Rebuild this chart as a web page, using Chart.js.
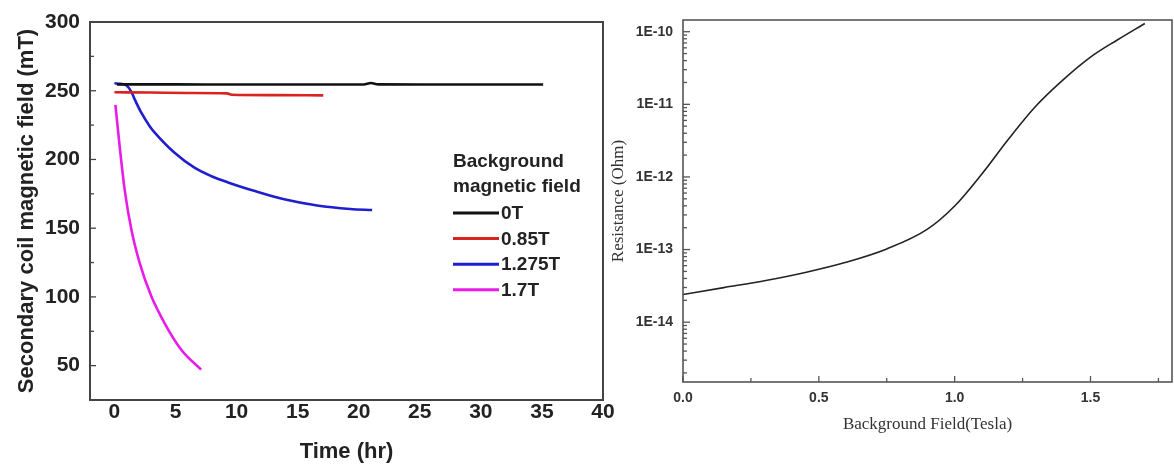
<!DOCTYPE html>
<html lang="en">
<head>
<meta charset="UTF-8">
<title>Secondary coil field decay and resistance</title>
<script src="https://cdn.jsdelivr.net/npm/chart.js@4.4.0/dist/chart.umd.min.js"></script>
<style>
  html, body { margin: 0; padding: 0; background: #fff; overflow: hidden; }
  #leftBox { position: absolute; left: 0; top: 0; width: 624px; height: 464px; }
  #rightBox { position: absolute; left: 600px; top: 0; width: 574px; height: 464px; }
</style>
</head>
<body>
<div id="leftBox"><canvas id="decayChart"></canvas></div>
<div id="rightBox"><canvas id="resistChart"></canvas></div>

<script>
// ---- left panel: secondary coil field vs time ----
const legendTitle = ['Background', 'magnetic field'];
const seriesLabels = ['0T', '0.85T', '1.275T', '1.7T'];
const seriesColors = ['#111111', '#d8231f', '#1f1fd0', '#e81be8'];

const time0T = [0.2, 5, 10, 15, 20.4, 21, 21.6, 25, 30, 35.1];
const field0T = [254.6, 254.6, 254.5, 254.5, 254.5, 255.6, 254.6, 254.5, 254.5, 254.5];

const time085T = [0, 3, 6, 9.2, 9.6, 13, 17.1];
const field085T = [248.9, 248.7, 248.4, 248.1, 247.1, 246.8, 246.6];

const time1275T = [0, 0.5, 1.0, 1.4, 1.7, 2.2, 2.9, 3.3, 4.9, 6.55, 7.9, 9.3, 11.5, 13.9, 16.6, 19.3, 21.1];
const field1275T = [255.4, 255, 253.8, 249, 243, 234, 224, 219.5, 205, 194, 188, 183.3, 177, 171, 166.5, 164, 163.2];

const time17T = [0.08, 0.43, 0.84, 1.39, 2.07, 3.02, 4.1, 5.47, 7.1];
const field17T = [239.7, 209.4, 177.9, 148.8, 124.6, 100.4, 81, 61.6, 47.1];

const timeTicks = [0, 40, 5];      // min, max, step
const fieldTicks = [25, 300, 25];  // min, max, step (labels every 50)

// ---- right panel: resistance vs background field ----
const bgField = [0, 0.15, 0.3, 0.45, 0.6, 0.75, 0.9, 1.0, 1.1, 1.2, 1.3, 1.4, 1.5, 1.6, 1.7];
const resistance = [2.40e-14, 2.99e-14, 3.72e-14, 4.84e-14, 6.68e-14, 1.02e-13, 1.91e-13, 3.98e-13,
                    1.10e-12, 3.39e-12, 9.55e-12, 2.19e-11, 4.47e-11, 7.76e-11, 1.30e-10];
const resDecades = [-15, -14, -13, -12, -11, -10];
const resRange = [1.5e-15, 1.45e-10];

const toPts = (xs, ys) => xs.map((x, i) => ({ x: x, y: ys[i] }));

const boldSans = '"Liberation Sans", Arial, sans-serif';
const serif = '"Liberation Serif", "Times New Roman", serif';

// frame around the plot plus inward tick marks
function frameTicks(color, width, xLen, yLen) {
  return {
    id: 'frameTicks',
    afterDatasetsDraw(chart) {
      const { ctx, chartArea: a } = chart;
      ctx.save();
      ctx.strokeStyle = color;
      ctx.lineWidth = width;
      ctx.strokeRect(a.left, a.top, a.right - a.left, a.bottom - a.top);
      ctx.lineWidth = 1.3;
      const xs = chart.scales.x, ys = chart.scales.y;
      xs.ticks.forEach(t => {
        const len = xLen(t.value);
        if (!len) return;
        const p = xs.getPixelForValue(t.value);
        ctx.beginPath(); ctx.moveTo(p, a.bottom); ctx.lineTo(p, a.bottom - len); ctx.stroke();
      });
      ys.ticks.forEach(t => {
        const len = yLen(t.value);
        if (!len) return;
        const p = ys.getPixelForValue(t.value);
        ctx.beginPath(); ctx.moveTo(a.left, p); ctx.lineTo(a.left + len, p); ctx.stroke();
      });
      ctx.restore();
    }
  };
}

const legendBox = {
  id: 'legendBox',
  afterDraw(chart) {
    const { ctx, chartArea: a } = chart;
    const x0 = a.left + 363;
    ctx.save();
    ctx.font = 'bold 19px ' + boldSans;
    ctx.fillStyle = '#222';
    ctx.textBaseline = 'middle';
    ctx.fillText(legendTitle[0], x0, a.top + 140);
    ctx.fillText(legendTitle[1], x0, a.top + 165);
    chart.data.datasets.forEach((ds, i) => {
      const y = a.top + 191 + i * 25.6;
      ctx.strokeStyle = ds.borderColor;
      ctx.lineWidth = 3;
      ctx.beginPath(); ctx.moveTo(x0, y); ctx.lineTo(x0 + 46, y); ctx.stroke();
      ctx.fillText(ds.label, x0 + 48, y + 1);
    });
    ctx.restore();
  }
};

const leftSeries = [[time0T, field0T], [time085T, field085T], [time1275T, field1275T], [time17T, field17T]];

new Chart(document.getElementById('decayChart'), {
  type: 'line',
  data: {
    datasets: leftSeries.map((s, i) => ({
      label: seriesLabels[i],
      data: toPts(s[0], s[1]),
      borderColor: seriesColors[i],
      borderWidth: 2.6,
      pointRadius: 0,
      cubicInterpolationMode: 'monotone'
    }))
  },
  options: {
    responsive: true,
    maintainAspectRatio: false,
    animation: false,
    layout: { padding: { top: 22, right: 21, left: 0, bottom: 0 } },
    plugins: { legend: { display: false }, tooltip: { enabled: false } },
    scales: {
      x: {
        type: 'linear', min: -2, max: timeTicks[1],
        grid: { display: false, drawTicks: false },
        border: { display: false },
        ticks: { stepSize: timeTicks[2], includeBounds: false, autoSkip: false, maxRotation: 0,
                 padding: 0, color: '#222', font: { family: boldSans, weight: 'bold', size: 21 } },
        title: { display: true, text: 'Time (hr)', color: '#222', padding: { top: 0, bottom: 0 },
                 font: { family: boldSans, weight: 'bold', size: 22, lineHeight: 1.1 } },
        afterFit: s => { s.height = 64; s.paddingLeft = 0; s.paddingRight = 0; }
      },
      y: {
        type: 'linear', min: fieldTicks[0], max: fieldTicks[1],
        grid: { display: false, drawTicks: false },
        border: { display: false },
        ticks: { stepSize: fieldTicks[2], includeBounds: false, autoSkip: false, padding: 10,
                 color: '#222', font: { family: boldSans, weight: 'bold', size: 21 },
                 callback: v => (v % 50 === 0 ? v : '') },
        title: { display: true, text: 'Secondary coil magnetic field (mT)', color: '#222',
                 padding: { top: 14, bottom: 0 },
                 font: { family: boldSans, weight: 'bold', size: 22, lineHeight: 1.2 } },
        afterFit: s => { s.width = 90; s.paddingTop = 0; s.paddingBottom = 0; }
      }
    }
  },
  plugins: [frameTicks('#444', 2, () => 0, v => (v % 50 === 0 ? 6 : 4)), legendBox]
});

const isDecade = v => Math.abs(Math.log10(v) - Math.round(Math.log10(v))) < 1e-6;

new Chart(document.getElementById('resistChart'), {
  type: 'line',
  data: {
    datasets: [{
      label: 'Resistance',
      data: toPts(bgField, resistance),
      borderColor: '#222',
      borderWidth: 1.6,
      pointRadius: 0,
      cubicInterpolationMode: 'monotone'
    }]
  },
  options: {
    responsive: true,
    maintainAspectRatio: false,
    animation: false,
    layout: { padding: { top: 20, right: 2, left: 0, bottom: 0 } },
    plugins: { legend: { display: false }, tooltip: { enabled: false } },
    scales: {
      x: {
        type: 'linear', min: 0, max: 1.8,
        grid: { display: false, drawTicks: false },
        border: { display: false },
        ticks: { stepSize: 0.25, includeBounds: false, autoSkip: false, maxRotation: 0, padding: 8,
                 color: '#333', font: { family: boldSans, weight: 'bold', size: 14 },
                 callback: v => (Math.abs(v * 2 - Math.round(v * 2)) < 1e-6 ? v.toFixed(1) : '') },
        title: { display: true, text: 'Background Field(Tesla)', color: '#333',
                 padding: { top: 0, bottom: 29 }, font: { family: serif, size: 17, lineHeight: 1.2 } },
        afterFit: s => { s.height = 82; s.paddingLeft = 0; s.paddingRight = 0; }
      },
      y: {
        type: 'logarithmic', min: resRange[0], max: resRange[1],
        grid: { display: false, drawTicks: false },
        border: { display: false },
        afterBuildTicks: s => {
          const ticks = [];
          resDecades.forEach(e => {
            for (let m = 1; m <= 9; m++) {
              const v = m * Math.pow(10, e);
              if (v >= resRange[0] && v <= resRange[1]) ticks.push({ value: v });
            }
          });
          s.ticks = ticks;
        },
        ticks: { autoSkip: false, padding: 10, color: '#333',
                 font: { family: boldSans, weight: 'bold', size: 14 },
                 callback: v => (isDecade(v) ? '1E' + Math.round(Math.log10(v)) : '') },
        title: { display: true, text: 'Resistance (Ohm)', color: '#333',
                 padding: { top: 8, bottom: 0 }, font: { family: serif, size: 17, lineHeight: 1.2 } },
        afterFit: s => { s.width = 83; s.paddingTop = 0; s.paddingBottom = 0; }
      }
    }
  },
  plugins: [frameTicks('#555', 1.6,
    v => (Math.abs(v * 2 - Math.round(v * 2)) < 1e-6 ? 6 : 4),
    v => (isDecade(v) ? 7 : 4))]
});
</script>
</body>
</html>
